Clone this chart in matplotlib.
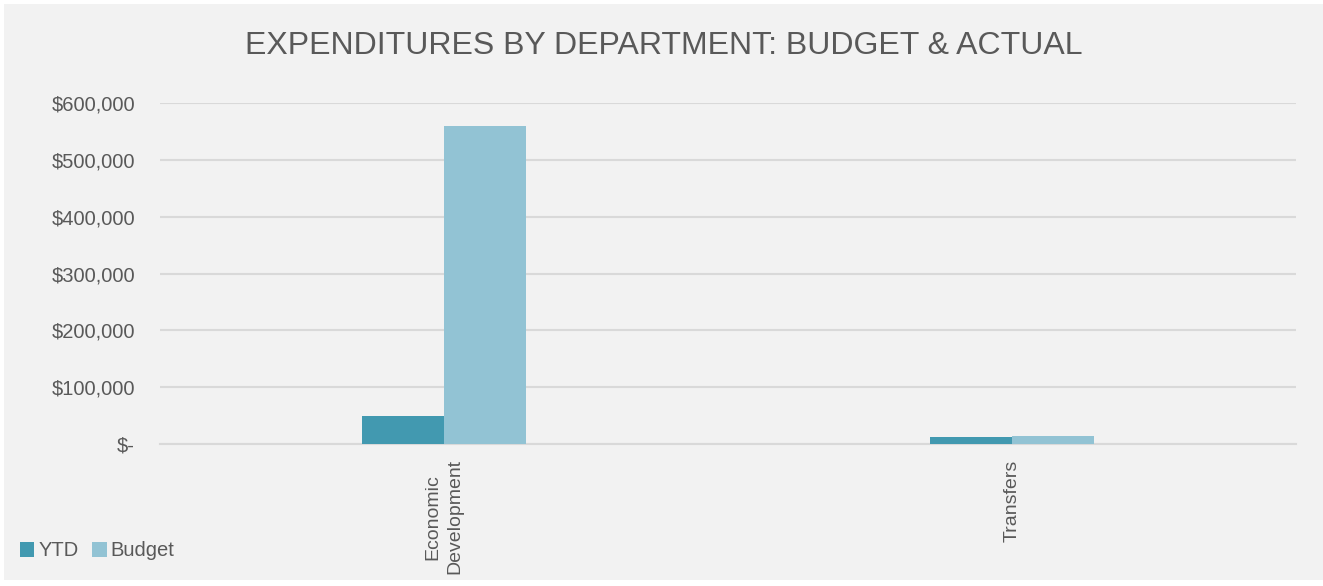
import matplotlib
matplotlib.use("Agg")
import matplotlib.pyplot as plt
from matplotlib.patches import Rectangle
from matplotlib.ticker import FuncFormatter
import numpy as np

# Department expenditures: year-to-date actuals vs. budget
departments = ["Economic\nDevelopment", "Transfers"]
ytd = [50000, 13000]
budget = [560000, 13500]
y_ticks = [0, 100000, 200000, 300000, 400000, 500000, 600000]

TEXT = "#595959"
BG = "#F2F2F2"
YTD_COLOR = "#4299B0"
BUDGET_COLOR = "#92C3D4"
GRID = "#D9D9D9"

plt.rcParams["font.family"] = ["Liberation Sans Narrow", "Liberation Sans", "DejaVu Sans"]

W, H = 1323, 586
fig = plt.figure(figsize=(W / 100, H / 100), dpi=100)
fig.patch.set_facecolor("white")
fig.patches.append(Rectangle((4 / W, 6 / H), 1 - 4 / W, 1 - 10 / H,
                             transform=fig.transFigure, facecolor=BG,
                             edgecolor="none", zorder=-10))

left, right, top, bottom = 160, 1296, 103, 444
ax = fig.add_axes([left / W, 1 - bottom / H, (right - left) / W, (bottom - top) / H])
ax.patch.set_alpha(0)

x = np.arange(len(departments))
bw = 0.144
ax.bar(x - bw / 2, ytd, width=bw, color=YTD_COLOR, label="YTD", zorder=3)
ax.bar(x + bw / 2, budget, width=bw, color=BUDGET_COLOR, label="Budget", zorder=3)

ax.set_xlim(-0.5, len(departments) - 0.5)
ax.set_ylim(0, 600000)
ax.set_yticks(y_ticks)
ax.yaxis.set_major_formatter(FuncFormatter(lambda v, p: "$-" if v == 0 else f"${v:,.0f}"))
ax.grid(axis="y", color=GRID, linewidth=1.5, zorder=0)
ax.set_axisbelow(True)
for s in ["top", "right", "left"]:
    ax.spines[s].set_visible(False)
ax.spines["bottom"].set_color(GRID)
ax.spines["bottom"].set_linewidth(1.5)

ax.set_xticks(x)
ax.set_xticklabels(departments, rotation=90, fontsize=14, color=TEXT,
                   ha="center", va="top", multialignment="center", linespacing=1.4)
ax.tick_params(axis="x", length=0, pad=11)
ax.tick_params(axis="y", length=0, pad=18, labelsize=14.5, labelcolor=TEXT)

fig.text(664 / W, 1 - 46 / H, "EXPENDITURES BY DEPARTMENT: BUDGET & ACTUAL",
         ha="center", va="center", fontsize=23, color=TEXT)

leg = fig.legend(loc="center left", bbox_to_anchor=(20 / W, 1 - 551 / H), ncol=2,
                 frameon=False, fontsize=14.5, labelcolor=TEXT, handlelength=0.7,
                 handleheight=0.7, handletextpad=0.2, columnspacing=0.7,
                 borderpad=0, borderaxespad=0)

fig.savefig("out.png", dpi=100, facecolor=fig.get_facecolor())
